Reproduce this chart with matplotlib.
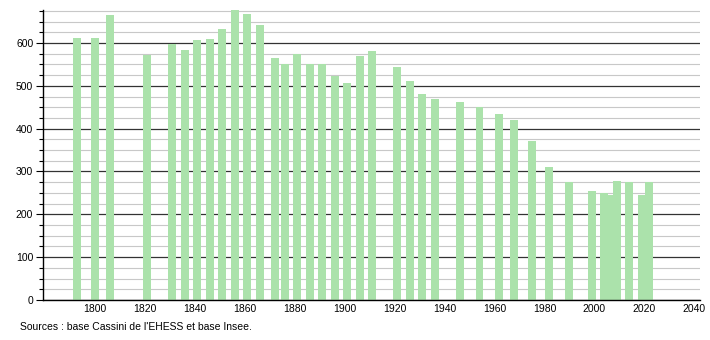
import numpy as np
import matplotlib.pyplot as plt
from matplotlib.ticker import MultipleLocator

# census years and population
years = [1793, 1800, 1806, 1821, 1831, 1836, 1841, 1846, 1851, 1856,
         1861, 1866, 1872, 1876, 1881, 1886, 1891, 1896, 1901, 1906,
         1911, 1921, 1926, 1931, 1936, 1946, 1954, 1962, 1968, 1975,
         1982, 1990, 1999, 2004, 2006, 2009, 2014, 2019, 2022]
population = [611, 611, 665, 572, 598, 584, 607, 609, 633, 677,
              668, 642, 566, 551, 574, 551, 550, 524, 506, 570,
              582, 545, 511, 482, 469, 462, 450, 434, 420, 372,
              311, 276, 254, 249, 244, 278, 275, 245, 275]

x_ticks = list(range(1800, 2041, 20))
source_text = "Sources : base Cassini de l'EHESS et base Insee."

plt.rcParams['font.family'] = ['Liberation Sans', 'DejaVu Sans']

fig = plt.figure(figsize=(7.1, 3.4), dpi=100)
ax = fig.add_axes([43 / 710, 40 / 340, 657 / 710, 290 / 340])

ax.bar(years, population, width=3.2, color='#abe2ab', zorder=3)

ax.set_xlim(1779.2, 2042.3)
ax.set_ylim(0, 677)

ax.yaxis.set_major_locator(MultipleLocator(100))
ax.yaxis.set_minor_locator(MultipleLocator(25))
ax.grid(axis='y', which='minor', color='#c8c8c8', linewidth=0.8, zorder=1)
ax.grid(axis='y', which='major', color='#333333', linewidth=0.9, zorder=2)

ax.set_xticks(x_ticks)
ax.tick_params(axis='x', length=0, labelsize=7.5, pad=3)
ax.tick_params(axis='y', which='major', length=5, width=0.8, labelsize=7.5, pad=2)
ax.tick_params(axis='y', which='minor', length=3, width=0.8)

for s in ['top', 'right']:
    ax.spines[s].set_visible(False)
ax.spines['left'].set_linewidth(1.0)
ax.spines['bottom'].set_linewidth(1.0)
ax.spines['left'].set_zorder(4)
ax.spines['bottom'].set_zorder(4)

fig.text(20 / 710, 1 - 327 / 340, source_text, fontsize=7.5, va='center', ha='left')

fig.savefig('out.png', dpi=100)
